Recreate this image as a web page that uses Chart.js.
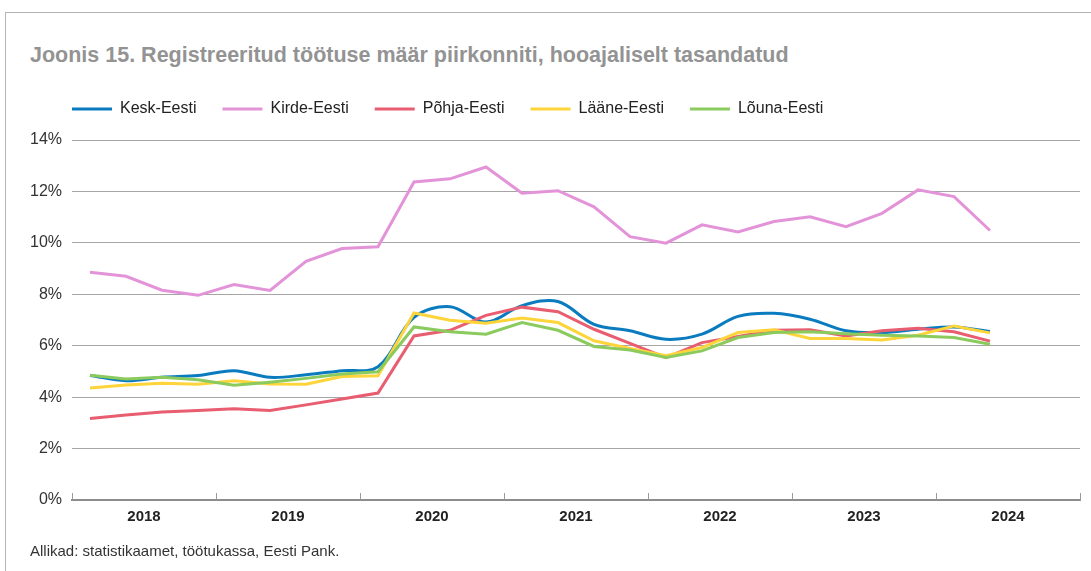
<!DOCTYPE html>
<html>
<head>
<meta charset="utf-8">
<script src="https://cdn.jsdelivr.net/npm/chart.js"></script>
<style>
  body { margin: 0; background: #fff; }
  #wrap { position: relative; width: 1091px; height: 571px; overflow: hidden; }
  #frame { position: absolute; left: 5px; top: 12px; right: -2px; bottom: -2px;
           border-left: 1px solid #b4b4b4; border-top: 1px solid #b4b4b4; }
  #title { position: absolute; left: 30px; top: 43px; font: bold 21.5px "Liberation Sans", Arial, sans-serif;
           color: #939393; white-space: nowrap; }
  #source { position: absolute; left: 30px; top: 542px; font: 15px "Liberation Sans", Arial, sans-serif;
            color: #333; white-space: nowrap; }
  canvas { position: absolute; left: 0; top: 0; }
</style>
</head>
<body>
<div id="wrap">
  <div id="frame"></div>
  <div id="title">Joonis 15. Registreeritud töötuse määr piirkonniti, hooajaliselt tasandatud</div>
  <canvas id="chart" width="1091" height="571"></canvas>
  <div id="source">Allikad: statistikaamet, töötukassa, Eesti Pank.</div>
</div>
<script>
const years = ['2018', '2019', '2020', '2021', '2022', '2023', '2024'];
const quarters = years.flatMap(y => ['I', 'II', 'III', 'IV'].map(q => y + ' ' + q));

// 2018 I kv ... 2024 II kv, registreeritud töötuse määr (%)
const keskEesti = [4.84, 4.64, 4.77, 4.84, 5.03, 4.77, 4.87, 5.03, 5.18, 7.10, 7.52, 6.92, 7.56,
  7.72, 6.83, 6.58, 6.25, 6.45, 7.14, 7.26, 7.03, 6.58, 6.51, 6.64, 6.73, 6.55];
const kirdeEesti = [8.86, 8.70, 8.16, 7.96, 8.38, 8.15, 9.28, 9.78, 9.85, 12.37, 12.49, 12.95, 11.93,
  12.03, 11.40, 10.24, 9.99, 10.70, 10.42, 10.83, 11.01, 10.63, 11.15, 12.06, 11.80, 10.48];
const pohjaEesti = [3.17, 3.31, 3.42, 3.48, 3.55, 3.48, 3.70, 3.93, 4.16, 6.38, 6.60, 7.18, 7.50,
  7.32, 6.64, 6.09, 5.54, 6.12, 6.36, 6.60, 6.62, 6.38, 6.58, 6.68, 6.54, 6.18];
const laaneEesti = [4.36, 4.47, 4.54, 4.50, 4.64, 4.51, 4.50, 4.80, 4.83, 7.27, 6.99, 6.87, 7.08,
  6.90, 6.19, 5.89, 5.61, 5.93, 6.51, 6.62, 6.28, 6.28, 6.22, 6.41, 6.77, 6.50];
const lounaEesti = [4.85, 4.71, 4.77, 4.68, 4.46, 4.58, 4.73, 4.90, 4.99, 6.73, 6.54, 6.45, 6.90,
  6.60, 5.97, 5.83, 5.54, 5.80, 6.32, 6.51, 6.54, 6.47, 6.41, 6.38, 6.32, 6.06];

const font = '"Liberation Sans", Arial, sans-serif';

function series(label, data, color, order, tension) {
  return {
    label, data, order,
    borderColor: color,
    backgroundColor: color,
    borderWidth: 3,
    pointRadius: 0,
    tension: tension || 0,
    fill: false
  };
}

// extra room under the legend
const legendGap = {
  id: 'legendGap',
  beforeInit(chart) {
    const fit = chart.legend.fit;
    chart.legend.fit = function () {
      fit.call(this);
      this.height += 13;
    };
  }
};

// year separators drawn as short marks rising from the x axis
const yearMarks = {
  id: 'yearMarks',
  afterDatasetsDraw(chart) {
    const x = chart.scales.x;
    const ctx = chart.ctx;
    const step = x.getPixelForValue(1) - x.getPixelForValue(0);
    const bottom = chart.chartArea.bottom;
    ctx.save();
    ctx.strokeStyle = '#9a9a9a';
    ctx.lineWidth = 1;
    for (let i = 0; i <= quarters.length; i += 4) {
      const px = Math.round(x.getPixelForValue(0) - step / 2 + i * step) + 0.5;
      ctx.beginPath();
      ctx.moveTo(px, bottom - 7);
      ctx.lineTo(px, bottom);
      ctx.stroke();
    }
    ctx.restore();
  }
};

new Chart(document.getElementById('chart'), {
  type: 'line',
  data: {
    labels: quarters,
    datasets: [
      series('Kesk-Eesti', keskEesti, '#0b7bc0', 5, 0.35),
      series('Kirde-Eesti', kirdeEesti, '#e393d8', 4),
      series('Põhja-Eesti', pohjaEesti, '#e85d6f', 3),
      series('Lääne-Eesti', laaneEesti, '#fdd43a', 2),
      series('Lõuna-Eesti', lounaEesti, '#8bcb5e', 1)
    ]
  },
  options: {
    responsive: false,
    animation: false,
    layout: { padding: { left: 46, right: 11, top: 75, bottom: 37 } },
    plugins: {
      tooltip: { enabled: false },
      legend: {
        position: 'top',
        align: 'start',
        labels: {
          boxWidth: 40,
          boxHeight: 3,
          padding: 26,
          color: '#222',
          font: { family: font, size: 16 },
          sort: (a, b) => a.datasetIndex - b.datasetIndex,
          generateLabels: chart => Chart.defaults.plugins.legend.labels.generateLabels(chart)
            .map(l => Object.assign(l, { lineWidth: 0 }))
        }
      }
    },
    scales: {
      x: {
        offset: true,
        grid: { display: false, drawTicks: false, offset: true },
        border: { display: true, color: '#8c8c8c', width: 2 },
        ticks: {
          autoSkip: false,
          maxRotation: 0,
          labelOffset: 18,
          padding: 8,
          color: '#222',
          font: { family: font, size: 15, weight: 'bold' },
          callback: (v, i) => (i % 4 === 1 ? quarters[i].slice(0, 4) : '')
        }
      },
      y: {
        min: 0,
        max: 14,
        afterFit: scale => {
          scale.width = 26;
          scale._computeLabelArea = () => undefined; // let the % labels reach past the padding
        },
        grid: { color: '#a6a6a6', lineWidth: 1, drawTicks: false },
        border: { display: false },
        ticks: {
          stepSize: 2,
          padding: 10,
          color: '#333',
          font: { family: font, size: 16 },
          callback: v => v + '%'
        }
      }
    }
  },
  plugins: [legendGap, yearMarks]
});
</script>
</body>
</html>
